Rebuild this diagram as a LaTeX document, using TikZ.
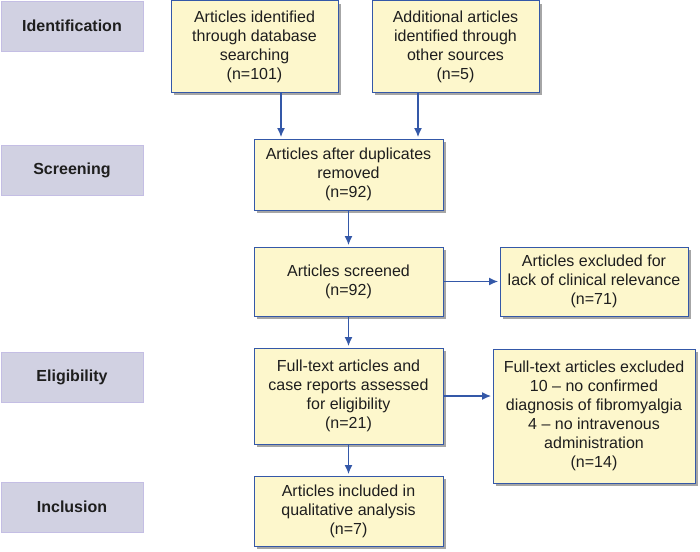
\documentclass[tikz,border=0pt]{standalone}
\usepackage{fontspec}
\setmainfont{Liberation Sans}
\usetikzlibrary{arrows.meta,shadows}
\definecolor{BoxYellow}{RGB}{253,247,204}
\definecolor{LineBlue}{RGB}{52,88,168}
\definecolor{StageFill}{RGB}{209,209,226}
\definecolor{StageLine}{RGB}{196,190,228}
\definecolor{TextGray}{RGB}{30,30,30}

\begin{document}
\begin{tikzpicture}[x=1pt,y=-1pt,
  n/.style={rectangle,draw=LineBlue,line width=1pt,fill=BoxYellow,align=center,inner sep=2pt,text=TextGray,font=\fontsize{16}{19}\selectfont,general shadow={fill=black!35,shadow xshift=3pt,shadow yshift=-3pt}},
  stage/.style={rectangle,draw=StageLine,fill=StageFill,line width=0.8pt,minimum width=142pt,minimum height=50pt,text=TextGray,font=\bfseries\fontsize{16}{19}\selectfont},
  arr/.style={-{Latex[length=9pt,width=8pt]},draw=LineBlue,line width=1.2pt,shorten >=1.5pt}
]
  \useasboundingbox (0,0) rectangle (700,551);
  % stages
  \node[stage] (idf) at (72,26) {Identification};
  \node[stage] (scrn) at (72,170) {Screening};
  \node[stage] (elig) at (72,377) {Eligibility};
  \node[stage] (incl) at (72,507) {Inclusion};
  % flow boxes
  \node[n,minimum width=167pt,minimum height=91pt] (db) at (254.5,46.5) {Articles identified\\through database\\searching\\(n=101)};
  \node[n,minimum width=167pt,minimum height=91pt] (other) at (455.5,46.5) {Additional articles\\identified through\\other sources\\(n=5)};
  \node[n,minimum width=189pt,minimum height=71pt] (dup) at (348.5,174.5) {Articles after duplicates\\removed\\(n=92)};
  \node[n,minimum width=189pt,minimum height=69pt] (scr) at (348.5,281.5) {Articles screened\\(n=92)};
  \node[n,minimum width=188pt,minimum height=69pt] (exa) at (594,281.5) {Articles excluded for\\lack of clinical relevance\\(n=71)};
  \node[n,minimum width=189pt,minimum height=96pt] (full) at (348.5,396) {Full-text articles and\\case reports assessed\\for eligibility\\(n=21)};
  \node[n,minimum width=202pt,minimum height=134pt] (exb) at (594,416) {Full-text articles excluded\\10 -- no confirmed\\diagnosis of fibromyalgia\\4 -- no intravenous\\administration\\(n=14)};
  \node[n,minimum width=189pt,minimum height=70pt] (inc) at (348.5,511) {Articles included in\\qualitative analysis\\(n=7)};
  % arrows
  \draw[arr] ([xshift=26.5pt]db.south) -- ([xshift=26.5pt]db.south |- dup.north);
  \draw[arr] ([xshift=-37.5pt]other.south) -- ([xshift=-37.5pt]other.south |- dup.north);
  \draw[arr] (dup) -- (scr);
  \draw[arr] (scr) -- (exa);
  \draw[arr] (scr) -- (full);
  \draw[arr] (full.east) -- (full.east -| exb.west);
  \draw[arr] (full) -- (inc);
\end{tikzpicture}
\end{document}
